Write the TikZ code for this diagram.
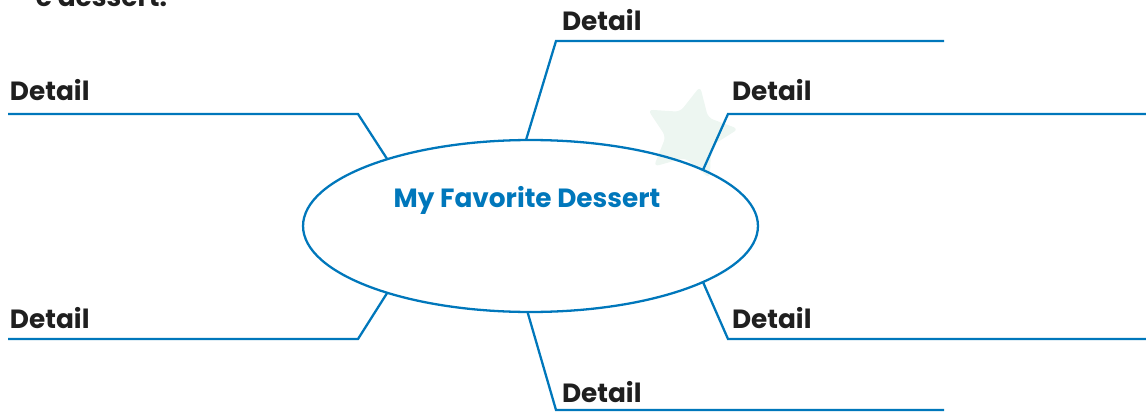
\documentclass[tikz,border=0pt]{standalone}
\usepackage{fontspec}
\setmainfont{Poppins}
\usetikzlibrary{shapes.geometric}
\definecolor{mapblue}{RGB}{0,119,187}
\definecolor{starmint}{RGB}{237,246,241}
\begin{document}
\begin{tikzpicture}[
    x=0.02cm, y=-0.02cm,
    every node/.style={inner sep=0pt, outer sep=0pt},
    detail/.style={font=\bfseries\fontsize{15}{18}\selectfont, text=black!88, anchor=west},
    branch/.style={draw=mapblue, line width=1.3pt},
    bubble/.style={ellipse, draw=mapblue, line width=1.3pt, minimum width=9.1cm, minimum height=3.44cm}
]
    \useasboundingbox (0,0) rectangle (1146,412);
    % faint star behind the map
    \node (star) [star, star points=5, star point ratio=2.0, fill=starmint, rounded corners=3pt, minimum size=1.95cm, rotate=-12] at (690,134) {};
    % cut-off instruction line
    \node (hint) [detail, anchor=base east] at (167,7) {e dessert.};
    % centre
    \node (bubble) [bubble] at (530.5,226) {};
    \node (title) [font=\bfseries\fontsize{15}{18}\selectfont, text=mapblue] at (527,200) {My Favorite Dessert};
    % bends and free ends
    \coordinate (tl bend) at (358,114);  \coordinate (tl end) at (8,114);
    \coordinate (t bend)  at (556,41);   \coordinate (t end)  at (944,41);
    \coordinate (tr bend) at (728,114);  \coordinate (tr end) at (1146,114);
    \coordinate (bl bend) at (358,339);  \coordinate (bl end) at (8,339);
    \coordinate (b bend)  at (556,410);  \coordinate (b end)  at (944,410);
    \coordinate (br bend) at (728,339);  \coordinate (br end) at (1146,339);
    \draw[branch] (bubble.155) -- (tl bend) -- (tl end);
    \draw[branch] (bubble.93)  -- (t bend)  -- (t end);
    \draw[branch] (bubble.18)  -- (tr bend) -- (tr end);
    \draw[branch] (bubble.205) -- (bl bend) -- (bl end);
    \draw[branch] (bubble.268) -- (b bend)  -- (b end);
    \draw[branch] (bubble.-18) -- (br bend) -- (br end);
    % labels
    \node (d tl) [detail] at (10,90)  {Detail};
    \node (d t)  [detail] at (562,20) {Detail};
    \node (d tr) [detail] at (732,90) {Detail};
    \node (d bl) [detail] at (10,318) {Detail};
    \node (d br) [detail] at (732,318) {Detail};
    \node (d b)  [detail] at (562,392) {Detail};
\end{tikzpicture}
\end{document}
